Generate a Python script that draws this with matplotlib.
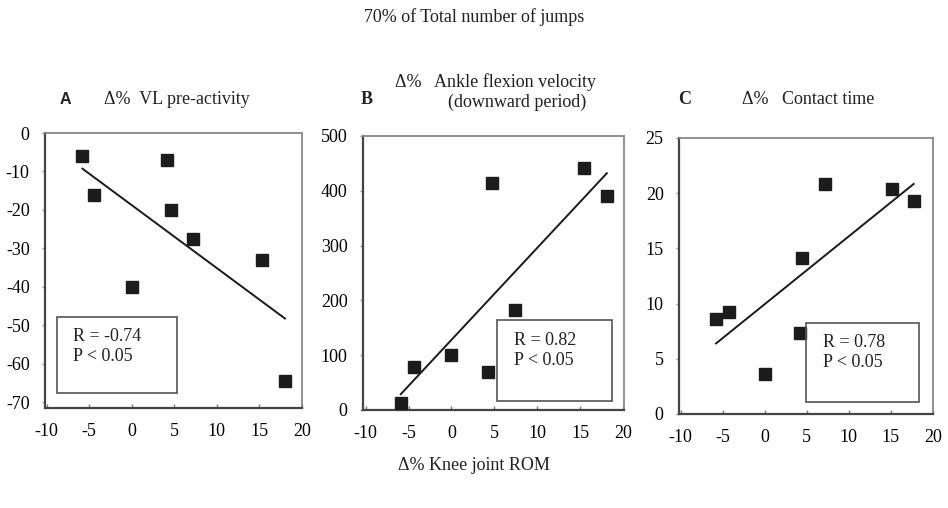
import numpy as np
import matplotlib
matplotlib.use("Agg")
import matplotlib.pyplot as plt
from matplotlib.patches import Rectangle

plt.rcParams['font.family'] = ['Liberation Serif', 'DejaVu Serif']
plt.rcParams['axes.unicode_minus'] = False

# Data (x = delta% knee joint ROM)
knee_rom_A = [-5.8, -4.4, 0.0, 4.1, 4.6, 7.2, 15.3, 18.0]
vl_preactivity = [-6, -16, -40, -7, -20, -27.5, -33, -64.5]

knee_rom_B = [-5.9, -4.4, 0.0, 4.3, 4.7, 7.4, 15.4, 18.1]
ankle_flex_vel = [12, 78, 100, 69, 414, 183, 442, 391]

knee_rom_C = [-5.8, -4.3, 0.0, 4.2, 4.4, 7.2, 15.1, 17.7]
contact_time = [8.6, 9.2, 3.6, 7.3, 14.1, 20.8, 20.4, 19.3]

x_ticks = [-10, -5, 0, 5, 10, 15, 20]
yticks_A = [0, -10, -20, -30, -40, -50, -60, -70]
yticks_B = [0, 100, 200, 300, 400, 500]
yticks_C = [0, 5, 10, 15, 20, 25]
stats_A = "R = -0.74\nP < 0.05"
stats_B = "R = 0.82\nP < 0.05"
stats_C = "R = 0.78\nP < 0.05"

W, H = 948, 508
fig = plt.figure(figsize=(W / 100, H / 100), dpi=100)


def px_rect(l, r, t, b):
    return [l / W, (H - b) / H, (r - l) / W, (b - t) / H]


def panel(rect, xs, ys, xlim, ylim, yticks, stats, box, txt):
    ax = fig.add_axes(rect)
    ax.plot(xs, ys, 's', color='#1c1c1c', markersize=8, zorder=3)
    k, c = np.polyfit(xs, ys, 1)
    xf = np.array([min(xs), max(xs)])
    ax.plot(xf, k * xf + c, color='#1a1a1a', lw=1.4, zorder=2)
    ax.set_xlim(*xlim)
    ax.set_ylim(*ylim)
    ax.set_xticks(x_ticks)
    ax.set_yticks(yticks)
    ax.tick_params(axis='x', direction='in', length=3, width=1, color='#777',
                   labelsize=13, pad=11)
    ax.tick_params(axis='y', direction='out', length=2, width=1, color='#999',
                   labelsize=13, pad=9)
    for s in ['left', 'bottom']:
        ax.spines[s].set_color('#444')
        ax.spines[s].set_linewidth(1.6)
    for s in ['top', 'right']:
        ax.spines[s].set_color('#888')
        ax.spines[s].set_linewidth(1.3)
    x0, x1, y0, y1 = box
    ax.add_patch(Rectangle((x0, y0), x1 - x0, y1 - y0, transform=ax.transAxes,
                           fill=False, edgecolor='#555', lw=1.2, zorder=4))
    ax.text(txt[0], txt[1], stats, transform=ax.transAxes, fontsize=13,
            va='top', ha='left', linespacing=1.2, color='#222')
    return ax


panel(px_rect(45, 302, 133, 408), knee_rom_A, vl_preactivity, (-10.2, 20),
      (-71.5, 0), yticks_A, stats_A, (0.048, 0.512, 0.053, 0.33), (0.11, 0.29))
panel(px_rect(363, 624, 136, 410), knee_rom_B, ankle_flex_vel, (-10.3, 20.1),
      (0, 500), yticks_B, stats_B, (0.512, 0.953, 0.034, 0.328), (0.58, 0.285))
panel(px_rect(679, 933, 138, 414), knee_rom_C, contact_time, (-10.2, 19.8),
      (0, 25), yticks_C, stats_C, (0.499, 0.945, 0.045, 0.331), (0.565, 0.29))


def ftext(x, y, s, **kw):
    fig.text(x / W, 1 - y / H, s, **kw)


ftext(474, 17, "70% of Total number of jumps", fontsize=13, ha='center', va='center', color='#222')
ftext(474, 466, "\u0394% Knee joint ROM", fontsize=13, ha='center', va='center', color='#222')
ftext(65, 100, "A", fontsize=11.5, ha='center', va='center', fontweight='bold',
      family=['Liberation Sans', 'DejaVu Sans'], color='#222')
ftext(104, 100, "\u0394%  VL pre-activity", fontsize=13, ha='left', va='center', color='#222')
ftext(367, 100, "B", fontsize=13, ha='center', va='center', fontweight='bold', color='#222')
ftext(395, 82, "\u0394%   Ankle flexion velocity", fontsize=13, ha='left', va='center', color='#222')
ftext(517, 102, "(downward period)", fontsize=13, ha='center', va='center', color='#222')
ftext(685, 100, "C", fontsize=13, ha='center', va='center', fontweight='bold', color='#222')
ftext(742, 100, "\u0394%   Contact time", fontsize=13, ha='left', va='center', color='#222')

fig.savefig("out.png", dpi=100)
